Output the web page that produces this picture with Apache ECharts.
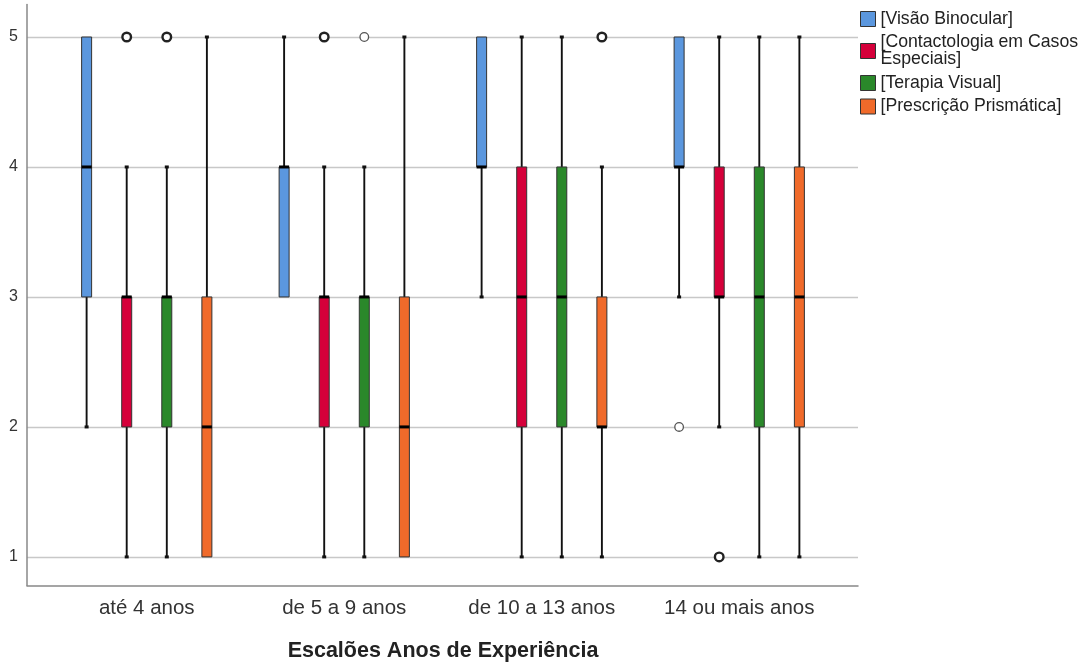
<!DOCTYPE html>
<html>
<head>
<meta charset="utf-8">
<script src="https://cdn.jsdelivr.net/npm/echarts@6/dist/echarts.min.js"></script>
<style>html,body{margin:0;padding:0;background:#fff}#c{width:1085px;height:666px}</style>
</head>
<body>
<div id="c"></div>
<script>
// ---- data ----
const categories = ['até 4 anos', 'de 5 a 9 anos', 'de 10 a 13 anos', '14 ou mais anos'];
const seriesNames = ['[Visão Binocular]', '[Contactologia em Casos Especiais]', '[Terapia Visual]', '[Prescrição Prismática]'];
const legendLabels = ['[Visão Binocular]', '[Contactologia em Casos\nEspeciais]', '[Terapia Visual]', '[Prescrição Prismática]'];
const colors = ['#5b97de', '#d5003a', '#2a882a', '#f06a2a'];
// [min, q1, median, q3, max] per category
const visaoBinocular = [[2, 3, 4, 5, 5], [3, 3, 4, 4, 5], [3, 4, 4, 5, 5], [3, 4, 4, 5, 5]];
const contactologia = [[1, 2, 3, 3, 4], [1, 2, 3, 3, 4], [1, 2, 3, 4, 5], [2, 3, 3, 4, 5]];
const terapiaVisual = [[1, 2, 3, 3, 4], [1, 2, 3, 3, 4], [1, 2, 3, 4, 5], [1, 2, 3, 4, 5]];
const prescricao = [[1, 1, 2, 3, 5], [1, 1, 2, 3, 5], [1, 2, 2, 3, 4], [1, 2, 3, 4, 5]];
// outliers: [categoryIndex, seriesIndex, value, bold(1)/thin(0)]
const outliers = [[0, 1, 5, 1], [0, 2, 5, 1], [1, 1, 5, 1], [1, 2, 5, 0], [2, 3, 5, 1], [3, 0, 2, 0], [3, 1, 1, 1]];
const yTicks = [1, 2, 3, 4, 5];

const allStats = [visaoBinocular, contactologia, terapiaVisual, prescricao];
const FONT = '"Liberation Sans", Arial, sans-serif';
const SLOT = 0.203;

function boxSeries(k) {
  return {
    type: 'custom', name: seriesNames[k], xAxisIndex: 1, yAxisIndex: 1,
    itemStyle: { color: colors[k] },
    data: allStats[k].map((s, i) => [i].concat(s)),
    renderItem: function (params, api) {
      const cat = api.value(0);
      const bw = api.size([1, 0])[0];
      const x = api.coord([cat, 0])[0] + (k - 1.5) * SLOT * bw;
      const y = v => api.coord([cat, v])[1];
      const mn = api.value(1), q1 = api.value(2), md = api.value(3), q3 = api.value(4), mx = api.value(5);
      const hw = 5;
      const ch = [];
      const wStyle = { stroke: '#111', lineWidth: 1.9 };
      if (mx > q3) {
        ch.push({ type: 'line', shape: { x1: x, y1: y(q3), x2: x, y2: y(mx) }, style: wStyle });
        ch.push({ type: 'rect', shape: { x: x - 2, y: y(mx) - 1.5, width: 4, height: 3 }, style: { fill: '#111' } });
      }
      if (mn < q1) {
        ch.push({ type: 'line', shape: { x1: x, y1: y(q1), x2: x, y2: y(mn) }, style: wStyle });
        ch.push({ type: 'rect', shape: { x: x - 2, y: y(mn) - 1.5, width: 4, height: 3 }, style: { fill: '#111' } });
      }
      ch.push({ type: 'rect', shape: { x: x - hw, y: y(q3), width: hw * 2, height: y(q1) - y(q3) },
        style: { fill: colors[k], stroke: '#333', lineWidth: 1 } });
      ch.push({ type: 'line', shape: { x1: x - hw, y1: y(md), x2: x + hw, y2: y(md) }, style: { stroke: '#000', lineWidth: 3 } });
      return { type: 'group', children: ch };
    }
  };
}

const series = [0, 1, 2, 3].map(boxSeries);
series.push({
  type: 'custom', name: 'outliers', xAxisIndex: 1, yAxisIndex: 1,
  data: outliers,
  renderItem: function (params, api) {
    const cat = api.value(0), k = api.value(1), v = api.value(2), bold = api.value(3);
    const bw = api.size([1, 0])[0];
    const p = api.coord([cat, v]);
    return { type: 'circle', shape: { cx: p[0] + (k - 1.5) * SLOT * bw, cy: p[1], r: 4.3 },
      style: { fill: '#fff', stroke: bold ? '#222' : '#555', lineWidth: bold ? 2.4 : 1.3 } };
  }
});

const chart = echarts.init(document.getElementById('c'), null, { renderer: 'canvas' });
chart.setOption({
  animation: false,
  backgroundColor: '#fff',
  textStyle: { fontFamily: FONT },
  grid: [
    { left: 27, right: 227, top: 4.5, bottom: 80.5, outerBoundsMode: 'none', containLabel: false },
    { left: 48, right: 247, top: 4.5, bottom: 80.5, outerBoundsMode: 'none', containLabel: false }
  ],
  legend: {
    left: 855, top: 5, orient: 'vertical', icon: 'rect', itemWidth: 15, itemHeight: 15, itemGap: 5.5,
    data: seriesNames,
    formatter: n => legendLabels[seriesNames.indexOf(n)],
    itemStyle: { borderColor: '#333', borderWidth: 1 },
    textStyle: { fontFamily: FONT, fontSize: 17.7, color: '#222', lineHeight: 17 }
  },
  xAxis: [
    { type: 'value', gridIndex: 0, min: 0, max: 1, axisLabel: { show: false }, axisTick: { show: false },
      splitLine: { show: false }, axisLine: { show: true, lineStyle: { color: '#888', width: 1.5 } } },
    { type: 'category', gridIndex: 1, data: categories, axisLine: { show: false }, axisTick: { show: false },
      axisLabel: { fontFamily: FONT, fontSize: 20.5, color: '#333', margin: 12 },
      name: 'Escalões Anos de Experiência', nameLocation: 'middle', nameGap: 55,
      nameTextStyle: { fontFamily: FONT, fontSize: 21.5, fontWeight: 'bold', color: '#222' } }
  ],
  yAxis: [
    { type: 'value', gridIndex: 0, min: 0.78, max: 5.25,
      axisLine: { show: true, lineStyle: { color: '#888', width: 1.5 } }, axisTick: { show: false },
      axisLabel: { showMinLabel: false, showMaxLabel: false, fontFamily: FONT, fontSize: 16, color: '#333', margin: 9,
        formatter: v => (yTicks.indexOf(v) >= 0 ? String(v) : '') },
      splitLine: { show: true, showMinLine: false, showMaxLine: false, lineStyle: { color: '#c8c8c8', width: 1.3 } } },
    { type: 'value', gridIndex: 1, min: 0.78, max: 5.25, show: false, splitLine: { show: false } }
  ],
  series: series
});
</script>
</body>
</html>
